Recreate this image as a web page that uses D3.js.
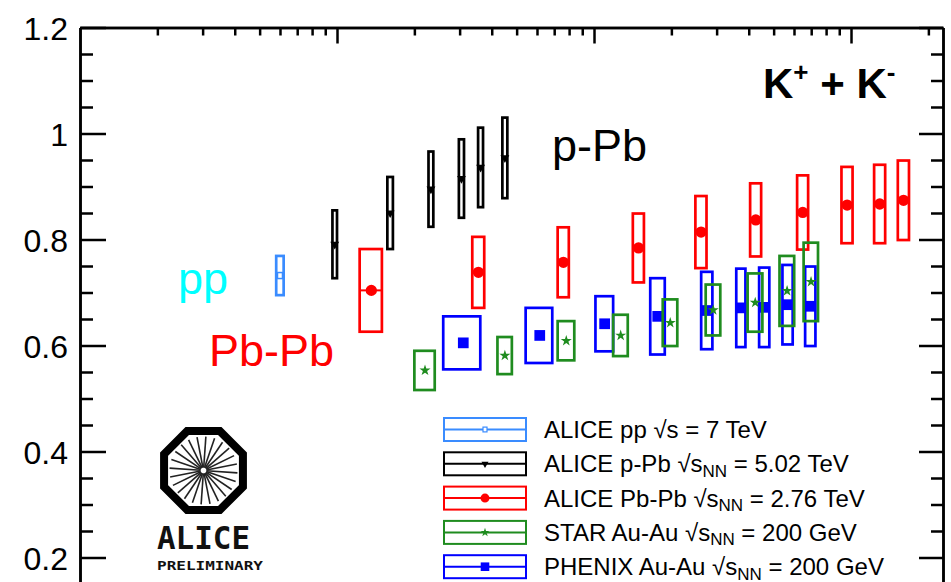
<!doctype html>
<html>

<head>
    <title>K+ + K- mean pT vs multiplicity</title>
    <script src="https://d3js.org/d3.v7.min.js"></script>
</head>

<style>
    body { margin: 0; background: #fff; }
    svg { font-family: 'Liberation Sans', Arial, Helvetica, sans-serif; }
</style>

<body>

    <script>

    // ---- data ----
    // ALICE pp 7 TeV
    var ppX = [6.0];
    var ppXErr = [0.2];
    var ppY = [0.732];
    var ppSys = [0.037];

    // ALICE p-Pb 5.02 TeV
    var pPbX = [9.8, 16.1, 23.2, 30.5, 36.2, 45.0];
    var pPbXErr = [0.2, 0.4, 0.5, 0.7, 0.8, 1.0];
    var pPbY = [0.791, 0.850, 0.895, 0.915, 0.936, 0.954];
    var pPbSys = [0.064, 0.068, 0.071, 0.074, 0.075, 0.076];

    // ALICE Pb-Pb 2.76 TeV
    var PbPbX = [13.6, 35.5, 76, 149, 261, 426, 649, 966, 1294, 1601];
    var PbPbXErr = [1.35, 1.9, 3.8, 7.4, 13, 21, 32, 48, 64, 80];
    var PbPbY = [0.704, 0.738, 0.757, 0.784, 0.814, 0.837, 0.851, 0.865, 0.867, 0.874];
    var PbPbSys = [0.078, 0.067, 0.066, 0.065, 0.068, 0.069, 0.070, 0.072, 0.074, 0.075];

    // STAR Au-Au 200 GeV
    var starX = [22, 45, 78, 127, 198, 291, 424, 564, 699];
    var starXErr = [2.0, 2.9, 5.8, 8.3, 12.9, 19, 28, 37, 45];
    var starY = [0.553, 0.581, 0.609, 0.619, 0.643, 0.667, 0.681, 0.703, 0.720];
    var starSys = [0.037, 0.035, 0.037, 0.039, 0.044, 0.048, 0.055, 0.066, 0.074];

    // PHENIX Au-Au 200 GeV
    var phenixX = [31, 61.5, 110, 177, 275, 373, 460, 567, 695];
    var phenixXErr = [5.1, 7.3, 8.7, 11.5, 13.8, 15.3, 21, 26, 32];
    var phenixY = [0.605, 0.619, 0.641, 0.655, 0.666, 0.671, 0.672, 0.677, 0.674];
    var phenixSys = [0.050, 0.052, 0.052, 0.072, 0.073, 0.074, 0.075, 0.075, 0.075];

    // axis ticks
    var yMajorTicks = [0.2, 0.4, 0.6, 0.8, 1, 1.2];
    var yMinorTicks = [0.05, 0.1, 0.15, 0.25, 0.3, 0.35, 0.45, 0.5, 0.55, 0.65, 0.7, 0.75,
                       0.85, 0.9, 0.95, 1.05, 1.1, 1.15];
    var xMajorTicks = [10, 100, 1000];
    var xMinorTicks = [2, 3, 4, 5, 6, 7, 8, 9, 20, 30, 40, 50, 60, 70, 80, 90,
                       200, 300, 400, 500, 600, 700, 800, 900, 2000];

    // legend text
    var legendNames = ['ALICE pp', 'ALICE p-Pb', 'ALICE Pb-Pb', 'STAR Au-Au', 'PHENIX Au-Au'];
    var legendSub = ['', 'NN', 'NN', 'NN', 'NN'];
    var legendEnergy = ['7 TeV', '5.02 TeV', '2.76 TeV', '200 GeV', '200 GeV'];

    //set canvas parameters
    var canvasWidth = 951;
    var canvasHeight = 582;
    var plotLeft = 80, plotRight = 943, plotTop = 27.5;

    var svg = d3.select('body')
                .append('svg')
                .attr('width', canvasWidth)
                .attr('height', canvasHeight);

    // log x (multiplicity), linear y; the bottom of the frame is cut off by the picture
    var xScale = d3.scaleLog()
                   .domain([1, 2280])
                   .range([plotLeft, plotRight]);

    var yScale = d3.scaleLinear()
                   .domain([0, 1.2])
                   .range([plotTop + 1.2 * 530, plotTop]);

    // ---- frame and ticks ----
    function drawAxis(axis, tx, ty) {
        var g = svg.append('g')
                   .attr('transform', 'translate(' + tx + ',' + ty + ')')
                   .call(axis);
        g.selectAll('.domain').attr('stroke', '#000').attr('stroke-width', 2.5);
        g.selectAll('.tick line').attr('stroke', '#000').attr('stroke-width', 2.5);
        g.selectAll('.tick text').remove();
        return g;
    }

    drawAxis(d3.axisRight(yScale).tickValues(yMajorTicks).tickSize(26).tickSizeOuter(0), plotLeft, 0);
    drawAxis(d3.axisRight(yScale).tickValues(yMinorTicks).tickSize(13).tickSizeOuter(0), plotLeft, 0);
    drawAxis(d3.axisLeft(yScale).tickValues(yMajorTicks).tickSize(24).tickSizeOuter(0), plotRight, 0);
    drawAxis(d3.axisLeft(yScale).tickValues(yMinorTicks).tickSize(12).tickSizeOuter(0), plotRight, 0);
    drawAxis(d3.axisBottom(xScale).tickValues(xMajorTicks).tickSize(16).tickSizeOuter(0), 0, plotTop);
    drawAxis(d3.axisBottom(xScale).tickValues(xMinorTicks).tickSize(8).tickSizeOuter(0), 0, plotTop);

    // y tick labels
    var yLabels = svg.append('g')
                     .attr('transform', 'translate(' + plotLeft + ',0)')
                     .call(d3.axisLeft(yScale)
                             .tickValues(yMajorTicks)
                             .tickSize(0)
                             .tickPadding(12)
                             .tickFormat(d3.format('~g')));
    yLabels.attr('font-family', null).attr('font-size', null);
    yLabels.select('.domain').remove();
    yLabels.selectAll('text')
           .attr('font-size', 32)
           .attr('fill', '#000')
           .attr('dy', '0.38em');

    // ---- series ----
    function zip(xs, xe, ys, sys) {
        return xs.map(function(x, i) {
            return { x: x, xe: xe[i], y: ys[i], sys: sys[i] };
        });
    }

    function drawSeries(data, color, markerFn, withBar) {
        var g = svg.append('g');

        // systematic boxes
        g.selectAll('rect.box')
         .data(data)
         .enter()
         .append('rect')
         .attr('class', 'box')
         .attr('x', function(d) { return xScale(d.x - d.xe); })
         .attr('width', function(d) { return xScale(d.x + d.xe) - xScale(d.x - d.xe); })
         .attr('y', function(d) { return yScale(d.y + d.sys); })
         .attr('height', function(d) { return yScale(d.y - d.sys) - yScale(d.y + d.sys); })
         .attr('fill', 'none')
         .attr('stroke', color)
         .attr('stroke-width', 2.7);

        // horizontal bar across the box
        if (withBar) {
            g.selectAll('line.bar')
             .data(data)
             .enter()
             .append('line')
             .attr('x1', function(d) { return xScale(d.x - d.xe); })
             .attr('x2', function(d) { return xScale(d.x + d.xe); })
             .attr('y1', function(d) { return yScale(d.y); })
             .attr('y2', function(d) { return yScale(d.y); })
             .attr('stroke', color)
             .attr('stroke-width', 2);
        }

        g.selectAll('g.marker')
         .data(data)
         .enter()
         .append('g')
         .attr('transform', function(d) { return 'translate(' + xScale(d.x) + ',' + yScale(d.y) + ')'; })
         .each(function() { markerFn(d3.select(this), color); });
    }

    // marker makers
    function ppMarker(sel, color) {
        sel.append('rect')
           .attr('x', -2.5).attr('y', -3).attr('width', 5).attr('height', 6)
           .attr('fill', '#fff').attr('stroke', color).attr('stroke-width', 1.5);
    }
    function triMarker(sel, color) {
        sel.append('path')
           .attr('d', d3.symbol().type(d3.symbolTriangle).size(34)())
           .attr('transform', 'rotate(180)')
           .attr('fill', color);
    }
    function circleMarker(sel, color) {
        sel.append('path')
           .attr('d', d3.symbol().type(d3.symbolCircle).size(100)())
           .attr('fill', color);
    }
    function starMarker(sel, color) {
        sel.append('path')
           .attr('d', d3.symbol().type(d3.symbolStar).size(38)())
           .attr('fill', color);
    }
    function squareMarker(sel, color) {
        sel.append('path')
           .attr('d', d3.symbol().type(d3.symbolSquare).size(115)())
           .attr('fill', color);
    }

    var ppColor = '#3a8cff', pPbColor = '#000', PbPbColor = '#ff0000',
        starColor = '#1f8c1f', phenixColor = '#0000ff';

    drawSeries(zip(ppX, ppXErr, ppY, ppSys), ppColor, ppMarker, true);
    drawSeries(zip(pPbX, pPbXErr, pPbY, pPbSys), pPbColor, triMarker, true);
    drawSeries(zip(PbPbX, PbPbXErr, PbPbY, PbPbSys), PbPbColor, circleMarker, true);
    drawSeries(zip(phenixX, phenixXErr, phenixY, phenixSys), phenixColor, squareMarker, false);
    drawSeries(zip(starX, starXErr, starY, starSys), starColor, starMarker, false);

    // ---- labels in the plot ----
    svg.append('text').attr('x', 178).attr('y', 294)
       .attr('font-size', 45).attr('fill', '#00ffff').text('pp');
    svg.append('text').attr('x', 209).attr('y', 366)
       .attr('font-size', 45).attr('fill', '#ff0000').text('Pb-Pb');
    svg.append('text').attr('x', 552).attr('y', 161)
       .attr('font-size', 45).attr('fill', '#000').text('p-Pb');

    var kk = svg.append('text').attr('x', 763).attr('y', 98)
                .attr('font-size', 42).attr('font-weight', 'bold').attr('fill', '#000');
    kk.append('tspan').text('K');
    kk.append('tspan').attr('font-size', 26).attr('dy', -17).text('+');
    kk.append('tspan').attr('dy', 17).text(' + K');
    kk.append('tspan').attr('font-size', 26).attr('dy', -17).text('-');

    // ---- legend ----
    var legendColors = [ppColor, pPbColor, PbPbColor, starColor, phenixColor];
    var legendMarkers = [ppMarker, triMarker, circleMarker, starMarker, squareMarker];
    var legend = svg.append('g');

    legendNames.forEach(function(name, i) {
        var cy = 429.5 + i * 34.3;
        var row = legend.append('g').attr('transform', 'translate(0,' + cy + ')');
        row.append('rect')
           .attr('x', 444).attr('y', -11.5).attr('width', 82).attr('height', 23)
           .attr('fill', 'none').attr('stroke', legendColors[i]).attr('stroke-width', 2);
        row.append('line')
           .attr('x1', 444).attr('x2', 526).attr('y1', 0).attr('y2', 0)
           .attr('stroke', legendColors[i]).attr('stroke-width', 2);
        var m = row.append('g').attr('transform', 'translate(485,0) scale(0.8)');
        legendMarkers[i](m, legendColors[i]);

        var t = row.append('text').attr('x', 544).attr('y', 8.5)
                   .attr('font-size', 24).attr('fill', '#000');
        t.append('tspan').text(name + ' ');
        t.append('tspan').text('\u221As');
        if (legendSub[i]) {
            t.append('tspan').attr('font-size', 17).attr('dy', 4.5).text(legendSub[i]);
            t.append('tspan').attr('dy', -4.5).text(' = ' + legendEnergy[i]);
        } else {
            t.append('tspan').text(' = ' + legendEnergy[i]);
        }
    });

    // ---- ALICE preliminary logo ----
    var logo = svg.append('g').attr('transform', 'translate(203.5,470.5)');
    var octR = 47 - 4 / Math.cos(Math.PI / 8);
    var octPts = d3.range(8).map(function(k) {
        var a = Math.PI / 8 + k * Math.PI / 4;
        return [octR * Math.cos(a), octR * Math.sin(a)];
    });
    logo.append('path')
        .attr('d', d3.line()(octPts) + 'Z')
        .attr('fill', 'none').attr('stroke', '#000').attr('stroke-width', 8)
        .attr('stroke-linejoin', 'miter');
    d3.range(24).forEach(function(k) {
        var a = k * Math.PI / 12 + 0.07;
        logo.append('line')
            .attr('x1', 3 * Math.cos(a)).attr('y1', 3 * Math.sin(a))
            .attr('x2', 34 * Math.cos(a)).attr('y2', 34 * Math.sin(a))
            .attr('stroke', '#222').attr('stroke-width', 1.6);
    });
    svg.append('text').attr('x', 157).attr('y', 549)
       .attr('font-family', "'DejaVu Sans Mono', monospace").attr('font-weight', 'bold')
       .attr('font-size', 32).attr('textLength', 93).attr('lengthAdjust', 'spacingAndGlyphs')
       .attr('fill', '#111').text('ALICE');
    svg.append('text').attr('x', 157).attr('y', 570)
       .attr('font-family', "'DejaVu Sans Mono', monospace").attr('font-weight', 'bold')
       .attr('font-size', 13).attr('textLength', 106).attr('lengthAdjust', 'spacingAndGlyphs')
       .attr('fill', '#111').text('PRELIMINARY');

    </script>

</body>

</html>
